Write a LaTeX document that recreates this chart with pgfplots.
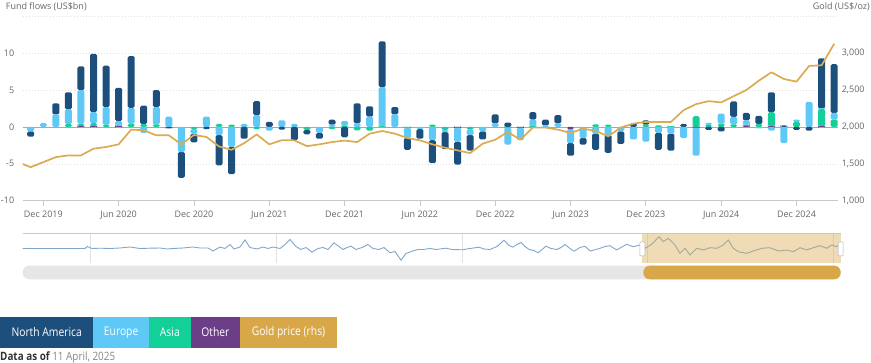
\documentclass[border=0pt]{standalone}
\usepackage{pgfplots}
\pgfplotsset{compat=1.18}
\usepackage{pgfplotstable}
\usepackage{fontspec}
\setmainfont{Open Sans}
\newfontfamily\condfont[FakeStretch=0.86]{Open Sans}

\definecolor{na}{HTML}{1D4F7C}
\definecolor{eu}{HTML}{5EC8F7}
\definecolor{as}{HTML}{13CF98}
\definecolor{ot}{HTML}{6D3E88}
\definecolor{gold}{HTML}{D8A748}
\definecolor{tickgray}{HTML}{666666}
\definecolor{gridgray}{HTML}{E2E2E2}
\definecolor{axisgray}{HTML}{C8C8C8}
\definecolor{zerogray}{HTML}{A8A8A8}
\definecolor{navline}{HTML}{7FA7CB}
\definecolor{scrollgray}{HTML}{E6E6E6}

\pgfplotstableread{
i NA EU AS OT
0 -0.7 -0.6 0 0
1 0 0.5 0 0
2 1.5 1.7 0 0
3 2.3 2.0 0.4 0
4 3.2 4.55 0.3 0.15
5 7.9 1.5 0.4 0.1
6 5.6 2.4 0.3 0
7 4.5 0.6 0.1 0.1
8 7.0 2.15 0.45 0
9 2.5 -0.8 0.4 0
10 2.3 2.35 0.35 0
11 -0.2 1.4 0 0
12 -3.5 -3.4 0 0
13 -1.2 -0.6 -0.3 0
14 -0.3 1.4 0 0
15 -4.1 -1.1 0.4 0
16 -3.7 -2.7 0.3 0
17 -1.6 0.4 0 0
18 1.9 1.6 -0.3 0
19 0.7 -0.5 0 0
20 -0.35 0.9 0 0
21 -1.8 0.4 0 0
22 -0.6 0 -0.4 0
23 -0.8 -0.8 0 0
24 0.7 0.3 -0.3 0
25 -1.4 0.6 0.2 0
26 2.7 0.5 -0.45 0
27 1.4 1.4 -0.5 0
28 6.2 5.3 0.1 0
29 1.0 1.7 0 0
30 -1.6 -1.4 -0.1 0
31 -1.3 -0.3 0 0
32 -3.1 -1.8 0.3 0
33 -2.3 -0.3 -0.4 0
34 -3.1 -1.9 0 -0.1
35 -2.1 -0.75 -0.35 0
36 -1.1 -0.6 0 0
37 1.2 0.5 0 0
38 0.6 -2.3 -0.1 0
39 0 -1.7 0 -0.1
40 1.0 0.9 0.1 0
41 0.8 0.2 0 0
42 1.1 0.5 0 0
43 -1.7 -1.9 0 -0.3
44 -0.9 -1.5 0 0
45 -2.2 -0.9 0.35 0
46 -2.4 -1.1 0.3 0
47 -1.7 -0.6 0 0
48 0.5 -1.7 0 0
49 0.6 -2.0 0.3 0
50 -2.3 -0.8 0.2 0
51 -2.3 -0.9 0.1 0
52 0.4 -1.5 0 0
53 0 -3.8 1.45 -0.1
54 -0.4 0.3 0.25 0
55 -0.6 1.35 0.45 0
56 2.1 1.0 0.35 0
57 1.0 0.6 0.1 0.2
58 1.1 -0.2 0.4 0
59 2.7 -0.5 1.9 0.1
60 0.2 -2.2 0 0
61 -0.4 0.3 0.7 0
62 -0.5 3.4 0 0
63 6.8 0.1 2.3 0.1
64 6.6 0.9 1.0 0
}\flows

\pgfplotstableread{
i gold
-1 1520
0 1455
1 1523
2 1591
3 1614
4 1614
5 1705
6 1728
7 1764
8 1964
9 1955
10 1886
11 1886
12 1764
13 1891
14 1864
15 1735
16 1690
17 1780
18 1898
19 1764
20 1820
21 1818
22 1740
23 1764
24 1795
25 1815
26 1795
27 1909
28 1945
29 1909
30 1850
31 1818
32 1764
33 1718
34 1682
35 1645
36 1773
37 1827
38 1932
39 1827
40 1991
41 1991
42 1964
43 1918
44 1977
45 1945
46 1873
47 1991
48 2045
49 2068
50 2068
51 2068
52 2227
53 2309
54 2350
55 2332
56 2418
57 2500
58 2627
59 2741
60 2650
61 2614
62 2827
63 2836
64 3127
}\goldtab

\pgfplotsset{
  base/.style={scale only axis, width=815.6pt, height=184.4pt,
    xmin=-0.641, xmax=64.33, at={(22.7pt,-200.7pt)}, anchor=south west},
  tick label style={font=\fontsize{9}{10}\selectfont, text=tickgray},
}

\begin{document}
\begin{tikzpicture}[x=1pt,y=1pt]
\useasboundingbox (0,0) rectangle (871,-363);

% ---- main axis: grid, ticks, positive stacks
\begin{axis}[base, ymin=-10, ymax=15,
  axis x line*=bottom, axis y line*=left,
  y axis line style={draw=none},
  x axis line style={draw=axisgray, line width=0.8pt, -},
  xtick={1,7,13,19,25,31,37,43,49,55,61},
  xticklabels={Dec 2019,Jun 2020,Dec 2020,Jun 2021,Dec 2021,Jun 2022,Dec 2022,Jun 2023,Dec 2023,Jun 2024,Dec 2024},
  xticklabel style={yshift=-2pt},
  ytick={-10,-5,0,5,10,15}, yticklabels={-10,-5,0,5,10,{}},
  ymajorgrids, grid style={gridgray, dash pattern=on 1.5pt off 1.5pt, line width=0.6pt},
  tick align=outside, major tick length=5pt,
  xtick style={draw=axisgray, line width=0.8pt}, ytick style={draw=none},
  ybar stacked, bar width=7pt,
]
\addplot[fill=ot, draw=none, rounded corners=1.5pt] table[x=i, y expr={max(\thisrow{OT},0)}]{\flows};
\addplot[fill=as, draw=none, rounded corners=1.5pt] table[x=i, y expr={max(\thisrow{AS},0)}]{\flows};
\addplot[fill=eu, draw=none, rounded corners=1.5pt] table[x=i, y expr={max(\thisrow{EU},0)}]{\flows};
\addplot[fill=na, draw=none, rounded corners=1.5pt] table[x=i, y expr={max(\thisrow{NA},0)}]{\flows};
\draw[zerogray, line width=0.8pt] (axis cs:-0.641,0) -- (axis cs:64.33,0);
\end{axis}

% ---- negative stacks
\begin{axis}[base, ymin=-10, ymax=15, hide axis, ybar stacked, bar width=7pt]
\addplot[fill=ot, draw=none, rounded corners=1.5pt] table[x=i, y expr={min(\thisrow{OT},0)}]{\flows};
\addplot[fill=as, draw=none, rounded corners=1.5pt] table[x=i, y expr={min(\thisrow{AS},0)}]{\flows};
\addplot[fill=eu, draw=none, rounded corners=1.5pt] table[x=i, y expr={min(\thisrow{EU},0)}]{\flows};
\addplot[fill=na, draw=none, rounded corners=1.5pt] table[x=i, y expr={min(\thisrow{NA},0)}]{\flows};
\end{axis}

% ---- gold price, right axis
\begin{axis}[base, ymin=1000, ymax=3500,
  axis y line*=right, axis x line=none,
  y axis line style={draw=none}, ytick style={draw=none},
  xtick=\empty,
  ytick={1000,1500,2000,2500,3000,3500},
  yticklabels={{1,000},{1,500},{2,000},{2,500},{3,000},{}},
  yticklabel style={anchor=west},
]
\addplot[gold!95!white, line width=1.7pt, no marks, line join=round] table[x=i, y=gold]{\goldtab};
\end{axis}

% ---- navigator
\begin{axis}[scale only axis, width=818pt, height=29pt, at={(22.7pt,-263pt)}, anchor=south west,
  xmin=22.7, xmax=840.7, ymin=-14.5, ymax=14.5,
  axis line style={draw=none}, tick style={draw=none},
  xtick={90,276,462,647,833}, xticklabels={}, ytick=\empty,
  xmajorgrids, grid style={gridgray, line width=0.6pt}, clip=false]
\addplot[navline, line width=0.9pt, no marks] coordinates {
(22.7,0) (85,0) (87.3,2) (92,0) (100,0.3) (110,0) (120,0.5) (130,1.5) (140,0) (150,0.3)
(160,0.5) (167,-0.5) (173,0) (183,0.5) (193,1.5) (200,0.5) (208,0.5) (213,-2.5) (220,1.5)
(225,0) (230,4) (234,-0.5) (240,1.5) (245,8.5) (250,1) (257,-0.5) (263,1.5) (268,0) (273,1.5)
(280,0) (284,3) (290,9) (296,2) (301,-1) (306,1) (312,-3.7) (318,0) (323,1) (328,-1) (334,5.7)
(339,2) (343,-1) (347,1) (351,2.3) (356,-1) (362,1) (368,4) (373,0) (379,-1) (384,1) (390,-4.3)
(395,-3) (401,-11.7) (406,-5) (412,-2.7) (418,-1) (423,-1) (430,0) (436,-1) (446,0.3) (452,-1)
(462,-1.3) (470,0) (479,1.3) (484,-0.5) (490,-1) (497,2) (504,8.3) (509,3) (513,1.3) (517,4)
(521,6) (525,2) (529,-1) (534,-2) (538,-4.3) (542,-1) (546,2.3) (551,0) (557,-1) (561,1) (565,4)
(570,0) (574,-2.7) (580,1) (585,2.3) (590,-2.5) (596,-1) (600,0.2) (605,2) (610,2.8) (616.7,-1.5)
(621,1) (626.7,4.2) (633.3,1.8) (640,3.5) (645,0.2) (651.7,4.2) (659,11.8) (663.3,6.8) (668.3,10.2)
(675,3.5) (680,-4.8) (685,0.2) (690,-6.5) (696.7,0.2) (703.3,-1.5) (710,0.8) (716.7,0.2) (723.3,3.5)
(728.3,8.5) (733.3,0.2) (738.3,-3.2) (746.7,-4.8) (753.3,-2.5) (761.7,0.2) (770,0.8) (778.3,-2.5)
(786.7,-1.5) (793.3,-3.2) (800,0.8) (806.7,-1.5) (813.3,0.8) (820,2.8) (826.7,0.2) (831.7,3.5)
(836.7,1.8) (840.7,6.8)};
\fill[gold, opacity=0.4] (axis cs:642.3,-14.5) rectangle (axis cs:840.7,14.5);
\draw[axisgray, line width=1pt] (axis cs:22.7,14.5) -- (axis cs:840.7,14.5);
\end{axis}

% navigator handles and scrollbar
\filldraw[fill=white, draw=gray!60, line width=0.5pt, rounded corners=1pt] (639.8,-242) rectangle (644.8,-256);
\filldraw[fill=white, draw=gray!60, line width=0.5pt, rounded corners=1pt] (838.2,-242) rectangle (843.2,-256);
\fill[scrollgray, rounded corners=6.5pt] (22.7,-265.7) rectangle (840.7,-279.3);
\fill[gold, rounded corners=6.5pt] (643.3,-265.7) rectangle (840.7,-279.3);

% titles
\node[anchor=west, inner sep=0, text=tickgray, font=\fontsize{9}{10}\selectfont] at (5.7,-6.7) {Fund flows (US\$bn)};
\node[anchor=east, inner sep=0, text=tickgray, font=\fontsize{9}{10}\selectfont] at (870,-6.5) {Gold (US\$/oz)};

% legend
\fill[na] (0,-316.7) rectangle (93.3,-347.7);
\fill[eu] (93.3,-316.7) rectangle (149,-347.7);
\fill[as] (149,-316.7) rectangle (190.7,-347.7);
\fill[ot] (190.7,-316.7) rectangle (240,-347.7);
\fill[gold] (240,-316.7) rectangle (337,-347.7);
\begin{scope}[every node/.style={text=white, inner sep=0, font=\condfont\fontsize{12}{13}\selectfont}]
\node at (46.65,-332.2) {North America};
\node at (121.15,-332.2) {Europe};
\node at (169.85,-332.2) {Asia};
\node at (215.35,-332.2) {Other};
\node at (288.5,-332.2) {Gold price (rhs)};
\end{scope}
\node[anchor=west, inner sep=0, font=\condfont\fontsize{11.5}{12}\selectfont] at (0,-357.5)
  {\textcolor{black!80}{\bfseries Data as of} \textcolor{tickgray!80}{11 April, 2025}};
\end{tikzpicture}
\end{document}
